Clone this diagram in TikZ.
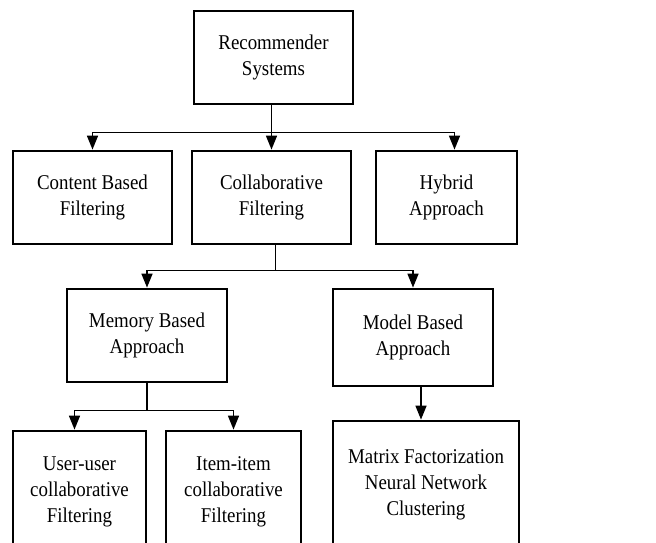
\documentclass[tikz,border=0pt]{standalone}
\usepackage{fontspec}
\setmainfont{Liberation Serif}[FakeStretch=0.9]
\usetikzlibrary{arrows.meta}

\tikzset{
  box/.style={draw, line width=2.8pt, fill=white, align=center, inner sep=2pt,
    font=\fontsize{21}{26}\selectfont},
  link/.style={line width=1.6pt},
  arr/.style={link, -{Triangle[length=14pt,width=11pt]}}
}

\begin{document}
\begin{tikzpicture}[x=1pt,y=-1pt]
    \useasboundingbox (0,0) rectangle (656,543);
    \clip (0,0) rectangle (656,543);

    % Boxes
    \node[box, minimum width=159pt, minimum height=93pt] (rs) at (273.5,57.5) {Recommender\\Systems};
    \node[box, minimum width=159pt, minimum height=93pt] (cbf) at (92.5,197.5) {Content Based\\Filtering};
    \node[box, minimum width=159pt, minimum height=93pt] (cf) at (271.5,197.5) {Collaborative\\Filtering};
    \node[box, minimum width=141pt, minimum height=93pt] (hyb) at (446.5,197.5) {Hybrid\\Approach};
    \node[box, minimum width=160pt, minimum height=93pt] (mem) at (147,335.5) {Memory Based\\Approach};
    \node[box, minimum width=160pt, minimum height=97pt] (mod) at (413,337.5) {Model Based\\Approach};
    \node[box, minimum width=133pt, minimum height=122pt] (uu) at (79.5,492) {User-user\\collaborative\\Filtering};
    \node[box, minimum width=135pt, minimum height=122pt] (ii) at (233.5,492) {Item-item\\collaborative\\Filtering};
    \node[box, minimum width=186pt, minimum height=128pt] (mat) at (426,485) {Matrix Factorization\\Neural Network\\Clustering};

    % Arrow end points off the box centres
    \coordinate (hybin) at ([xshift=8pt]hyb.north);
    \coordinate (uuin) at ([xshift=-5pt]uu.north);
    \coordinate (modout) at ([xshift=8pt]mod.south);

    % Recommender Systems branches
    \draw[link] (rs.south -| cf.north) -- ++(0,27) coordinate (rsj);
    \draw[link] (rsj -| cbf.north) -- (rsj -| hybin);
    \draw[arr] (rsj -| cbf.north) -- (cbf.north);
    \draw[arr] (rsj) -- (cf.north);
    \draw[arr] (rsj -| hybin) -- (hybin);

    % Collaborative Filtering branches
    \draw[link] ([xshift=4pt]cf.south) -- ++(0,25) coordinate (cfj);
    \draw[link] (cfj -| mem.north) -- (cfj -| mod.north);
    \draw[arr] (cfj -| mem.north) -- (mem.north);
    \draw[arr] (cfj -| mod.north) -- (mod.north);

    % Memory Based branches
    \draw[link] (mem.south) -- ++(0,27) coordinate (memj);
    \draw[link] (memj -| uuin) -- (memj -| ii.north);
    \draw[arr] (memj -| uuin) -- (uuin);
    \draw[arr] (memj -| ii.north) -- (ii.north);

    % Model Based branch
    \draw[arr] (modout) -- (modout |- mat.north);
\end{tikzpicture}
\end{document}
